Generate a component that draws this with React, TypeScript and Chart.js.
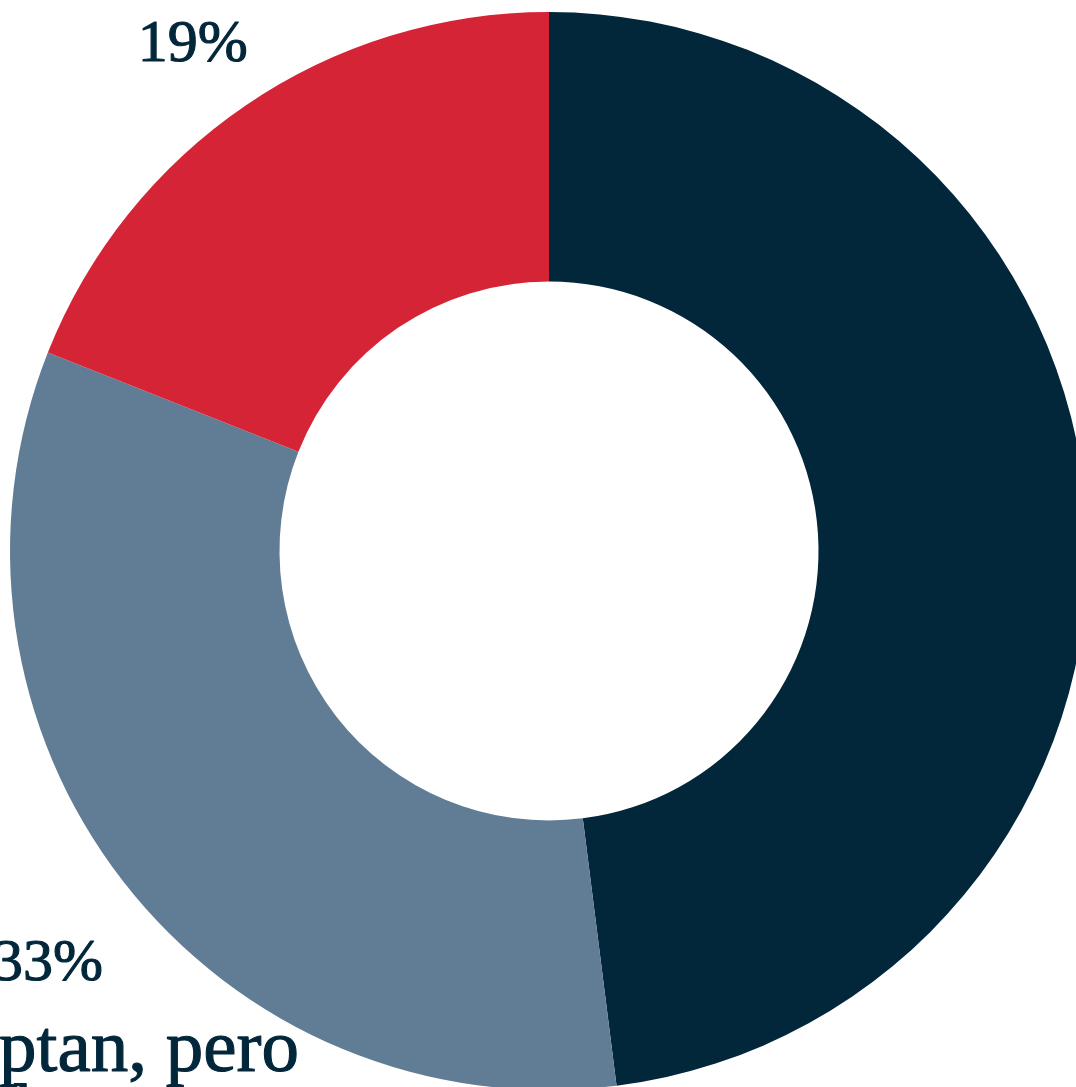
import { useEffect, useRef } from "react";
import { Chart, registerables } from "chart.js";

Chart.register(...registerables);

const categories = ["Lo aceptan y lo usan", "Lo aceptan, pero lo hablan poco", "No lo aceptan"];
const labelLines = [
  ["Lo aceptan", "y lo usan"],
  ["Lo aceptan, pero", "lo hablan poco"],
  ["No lo", "aceptan"],
];
const values = [48, 33, 19];
const pctLabels = ["48%", "33%", "19%"];
const colors = ["#02263A", "#607D95", "#D62437"];
const textColor = "#02263A";

function drawText(ctx: CanvasRenderingContext2D, s: string, x: number, y: number) {
  ctx.fillText(s, x, y);
  ctx.strokeText(s, x, y);
}

const outsideLabels = {
  id: "outsideLabels",
  afterDraw(chart: any) {
    const ctx = chart.ctx as CanvasRenderingContext2D;
    const meta = chart.getDatasetMeta(0);
    meta.data.forEach((arc: any, i: number) => {
      const { x, y, startAngle, endAngle, outerRadius } = arc.getProps(
        ["x", "y", "startAngle", "endAngle", "outerRadius"],
        true
      );
      const mid = (startAngle + endAngle) / 2;
      const s = Math.sin(mid);
      const c = Math.cos(mid);
      ctx.save();
      ctx.fillStyle = textColor;
      ctx.strokeStyle = textColor;
      ctx.lineWidth = 1.1;
      ctx.lineJoin = "round";
      ctx.textBaseline = "alphabetic";
      const lines = labelLines[i];
      if (Math.abs(s) < 0.3) {
        // side label: left/right aligned beyond the ring
        const ax = x + Math.sign(c) * (outerRadius + 50);
        ctx.textAlign = c > 0 ? "left" : "right";
        ctx.font = "60px 'Liberation Serif'";
        drawText(ctx, pctLabels[i], ax, y - 20);
        ctx.font = "75px 'Liberation Serif'";
        lines.forEach((l, k) => drawText(ctx, l, ax, y + 60 + k * 64));
        ctx.restore();
        return;
      }
      const d = outerRadius + 95;
      const ax = x + c * d;
      const ay = y + s * d;
      const base = ay + (s >= 0 ? 40 : 34);
      ctx.textAlign = "center";
      ctx.font = "60px 'Liberation Serif'";
      drawText(ctx, pctLabels[i], ax, base);
      ctx.font = "75px 'Liberation Serif'";
      if (s >= 0) {
        lines.forEach((l, k) => drawText(ctx, l, ax, base + 91 + k * 64));
      } else {
        lines
          .slice()
          .reverse()
          .forEach((l, k) => drawText(ctx, l, ax, base - 95 - k * 64));
      }
      ctx.restore();
    });
  },
};

export default function App() {
  const ref = useRef<HTMLCanvasElement | null>(null);
  useEffect(() => {
    if (!ref.current) return;
    const chart = new Chart(ref.current, {
      type: "doughnut",
      data: {
        labels: categories,
        datasets: [
          {
            data: values,
            backgroundColor: colors,
            borderWidth: 0,
            hoverOffset: 0,
          },
        ],
      },
      options: {
        responsive: true,
        maintainAspectRatio: false,
        animation: false,
        cutout: "50%",
        layout: { padding: 161 },
        plugins: {
          legend: { display: false },
          tooltip: { enabled: false },
        },
      },
      plugins: [outsideLabels],
    });
    return () => chart.destroy();
  }, []);

  return (
    <div
      style={{
        position: "fixed",
        left: 0,
        top: 0,
        width: 1076,
        height: 1087,
        overflow: "hidden",
        background: "#ffffff",
      }}
    >
      <div style={{ position: "absolute", left: -151, top: -149, width: 1400, height: 1400 }}>
        <canvas ref={ref} />
      </div>
    </div>
  );
}
